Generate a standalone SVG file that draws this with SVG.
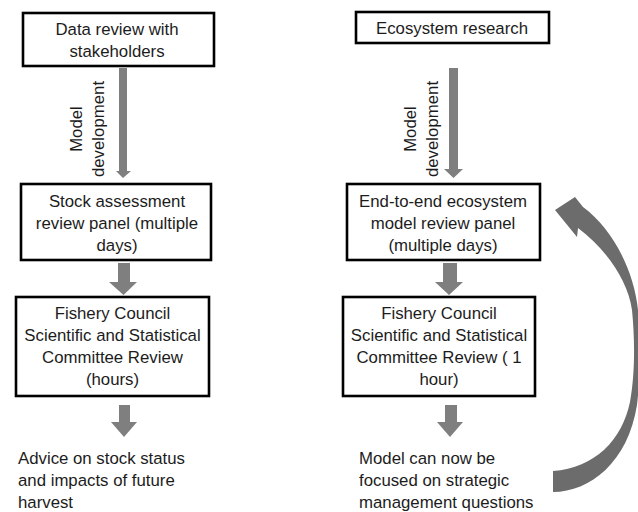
<svg xmlns="http://www.w3.org/2000/svg" width="638" height="512" viewBox="0 0 638 512">
<style>
  .box { fill: #ffffff; stroke: #000000; stroke-width: 2.6; }
  .t { font-family: "Liberation Sans", Arial, sans-serif; font-size: 16.8px; fill: #1c1c1c; }
  .c { text-anchor: middle; }
  .arr { fill: #7f7f7f; }
  .curve { fill: #6c6c6c; }
</style>
<rect width="638" height="512" fill="#ffffff"/>

<g id="connectors">
  <!-- left column -->
  <polygon class="arr" points="119,68 127,68 127,171 131,171 123,178 116,171 119,171"/>
  <polygon class="arr" points="118,263 130,263 130,282 137,282 123.5,295 109,282 118,282"/>
  <polygon class="arr" points="119,405 130,405 130,422 137,422 124,437 111,422 119,422"/>
  <!-- right column -->
  <polygon class="arr" points="449,68 458,68 458,169 463,169 453.5,178 444,169 449,169"/>
  <polygon class="arr" points="443,263 457,263 457,282 463,282 449,295 435,282 443,282"/>
  <polygon class="arr" points="445,405 457,405 457,422 463,422 450,437 437,422 445,422"/>
  <!-- feedback curved arrow -->
  <path class="curve" d="M 553,492 C 590,492 628,462 637,405 C 640,380 641,340 638,310 C 634,270 612,228 583,207 L 575,197 L 555,210 L 577,237 L 578,228 C 605,248 628,280 632,310 C 635,340 635,375 630,402 C 622,440 595,468 553,471 Z"/>
  <!-- rotated labels -->
  <text class="t c" transform="translate(82,129) rotate(-90)">Model</text>
  <text class="t c" transform="translate(104,129) rotate(-90)">development</text>
  <text class="t c" transform="translate(415.5,129) rotate(-90)">Model</text>
  <text class="t c" transform="translate(437.5,129) rotate(-90)">development</text>
</g>

<g id="data-review">
  <rect class="box" x="23" y="13" width="191" height="53"/>
  <text class="t c" x="117" y="34.5">Data review with</text>
  <text class="t c" x="117" y="56.5">stakeholders</text>
</g>

<g id="stock-assessment">
  <rect class="box" x="21" y="184" width="190" height="76"/>
  <text class="t c" x="117" y="207">Stock assessment</text>
  <text class="t c" x="117" y="229">review panel (multiple</text>
  <text class="t c" x="117" y="251">days)</text>
</g>

<g id="ssc-left">
  <rect class="box" x="16" y="297" width="193" height="99"/>
  <text class="t c" x="112.5" y="318.5">Fishery Council</text>
  <text class="t c" x="112.5" y="340.5">Scientific and Statistical</text>
  <text class="t c" x="112.5" y="362.5">Committee Review</text>
  <text class="t c" x="112.5" y="384.5">(hours)</text>
</g>

<g id="advice">
  <text class="t" x="18" y="464">Advice on stock status</text>
  <text class="t" x="18" y="486">and impacts of future</text>
  <text class="t" x="18" y="508">harvest</text>
</g>

<g id="ecosystem-research">
  <rect class="box" x="356" y="12" width="193" height="31"/>
  <text class="t c" x="452" y="34">Ecosystem research</text>
</g>

<g id="e2e-review">
  <rect class="box" x="347" y="184" width="193" height="76"/>
  <text class="t c" x="443" y="207">End-to-end ecosystem</text>
  <text class="t c" x="443" y="229">model review panel</text>
  <text class="t c" x="443" y="251">(multiple days)</text>
</g>

<g id="ssc-right">
  <rect class="box" x="343" y="297" width="192" height="99"/>
  <text class="t c" x="439" y="318.5">Fishery Council</text>
  <text class="t c" x="439" y="340.5">Scientific and Statistical</text>
  <text class="t c" x="439" y="362.5">Committee Review ( 1</text>
  <text class="t c" x="439" y="384.5">hour)</text>
</g>

<g id="strategic">
  <text class="t" x="359" y="464">Model can now be</text>
  <text class="t" x="359" y="486">focused on strategic</text>
  <text class="t" x="359" y="508">management questions</text>
</g>
</svg>
